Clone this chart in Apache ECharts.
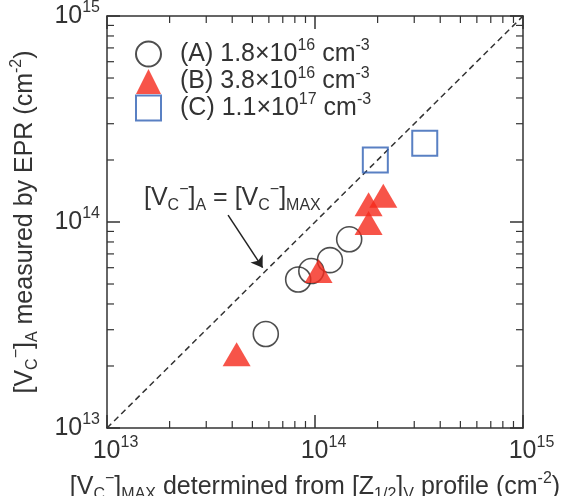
<!DOCTYPE html>
<html>
<head>
<meta charset="utf-8">
<script src="https://cdn.jsdelivr.net/npm/echarts@6/dist/echarts.min.js"></script>
<style>
  html, body { margin: 0; padding: 0; background: #fff; }
  #main { width: 576px; height: 496px; }
</style>
</head>
<body>
<div id="main"></div>
<script>
// sample (A) 1.8e16 cm-3
const xA = [5.8e13, 8.3e13, 9.6e13, 1.18e14, 1.46e14];
const yA = [2.86e13, 5.26e13, 5.78e13, 6.53e13, 8.24e13];
// sample (B) 3.8e16 cm-3
const xB = [4.2e13, 1.04e14, 1.81e14, 1.81e14, 2.13e14];
const yB = [2.28e13, 5.78e13, 9.9e13, 1.22e14, 1.34e14];
// sample (C) 1.1e17 cm-3
const xC = [1.95e14, 3.37e14];
const yC = [2.0e14, 2.41e14];

// y = x guide and the arrow pointing at it
const diagX = [1e13, 1e15];
const diagY = [1e13, 1e15];
const arrowFrom = [3.82e13, 1.08e14];
const arrowTo = [5.6e13, 6.0e13];

const axisMin = 1e13;
const axisMax = 1e15;
const minorTicks = [2e13, 3e13, 4e13, 5e13, 6e13, 7e13, 8e13, 9e13,
                    2e14, 3e14, 4e14, 5e14, 6e14, 7e14, 8e14, 9e14];

const legendNames = ['A', 'B', 'C'];
const legendLabels = [
  '{g|}{n|(A) 1.8×10}{s|16}{n| cm}{s|-3}',
  '{g|}{n|(B) 3.8×10}{s|16}{n| cm}{s|-3}',
  '{g|}{n|(C) 1.1×10}{s|17}{n| cm}{s|-3}'
];

const FONT = 'Liberation Sans, Arial, sans-serif';
const TXT = '#333';

const rich = {
  n: { fontFamily: FONT, fontSize: 25, lineHeight: 32, color: TXT },
  b: { fontFamily: FONT, fontSize: 25, lineHeight: 32, color: TXT },
  s: { fontFamily: FONT, fontSize: 16, lineHeight: 14, verticalAlign: 'top', color: TXT },
  sup: { fontFamily: FONT, fontSize: 16, lineHeight: 14, verticalAlign: 'top', color: TXT },
  sub: { fontFamily: FONT, fontSize: 16, lineHeight: 22, verticalAlign: 'bottom', color: TXT },
  p: { width: 17 },
  g: { width: 14 }
};

function pairs(xs, ys) {
  return xs.map((x, i) => [x, ys[i]]);
}

function expOf(v) {
  return Math.round(Math.log(v) / Math.LN10);
}

function majorAxis(pos, extra) {
  return Object.assign({
    type: 'log',
    logBase: 10,
    min: axisMin,
    max: axisMax,
    position: pos,
    axisLine: { show: true, onZero: false, lineStyle: { color: '#333', width: 1.5 } },
    axisTick: { show: true, inside: true, length: 13, lineStyle: { color: '#333', width: 1.5 } },
    axisLabel: { show: false },
    splitLine: { show: false },
    minorTick: { show: false }
  }, extra || {});
}

// minor ticks (2..9 x 10^n) on all four sides, placed through the axes
function renderMinorTick(params, api) {
  const v = api.value(0);
  const len = 7;
  const b = api.coord([v, axisMin]);
  const t = api.coord([v, axisMax]);
  const l = api.coord([axisMin, v]);
  const r = api.coord([axisMax, v]);
  const style = { stroke: '#333', lineWidth: 1.2 };
  return {
    type: 'group',
    children: [
      { type: 'line', shape: { x1: b[0], y1: b[1], x2: b[0], y2: b[1] - len }, style: style },
      { type: 'line', shape: { x1: t[0], y1: t[1], x2: t[0], y2: t[1] + len }, style: style },
      { type: 'line', shape: { x1: l[0], y1: l[1], x2: l[0] + len, y2: l[1] }, style: style },
      { type: 'line', shape: { x1: r[0], y1: r[1], x2: r[0] - len, y2: r[1] }, style: style }
    ]
  };
}

const xName = '{n|[V}{sub|C}{sup|−}{n|]}{sub|MAX}{n| determined from [Z}{sub|1/2}{n|]}{sub|V}{n| profile (cm}{sup|-2}{n|)}';
const yName = '{n|[V}{sub|C}{sup|−}{n|]}{sub|A}{n| measured by EPR (cm}{sup|-2}{n|)}';
const noteText = '{n|[V}{sub|C}{sup|−}{n|]}{sub|A}{n| = [V}{sub|C}{sup|−}{n|]}{sub|MAX}';

const chart = echarts.init(document.getElementById('main'), null, { renderer: 'canvas' });

const option = {
  backgroundColor: '#ffffff',
  animation: false,
  grid: { left: 107, right: 53, top: 16, bottom: 68, containLabel: false, outerBoundsMode: 'none' },
  legend: {
    data: legendNames,
    orient: 'vertical',
    left: 130,
    top: 33,
    itemWidth: 25,
    itemHeight: 25,
    itemGap: -2,
    selectedMode: false,
    formatter: function (name) {
      return legendLabels[legendNames.indexOf(name)];
    },
    textStyle: { rich: rich, fontFamily: FONT, fontSize: 25, color: TXT }
  },
  xAxis: [
    majorAxis('bottom', {
      axisLabel: {
        show: true,
        margin: 7,
        formatter: function (v) { return '{p|}{b|10}{s|' + expOf(v) + '}'; },
        rich: rich
      },
      name: xName,
      nameLocation: 'middle',
      nameGap: 43,
      nameTextStyle: { rich: rich, fontFamily: FONT, fontSize: 25, color: TXT }
    }),
    majorAxis('top')
  ],
  yAxis: [
    majorAxis('left', {
      axisLabel: {
        show: true,
        margin: 7,
        formatter: function (v) { return '{b|10}{s|' + expOf(v) + '}'; },
        rich: rich
      },
      name: yName,
      nameLocation: 'middle',
      nameGap: 66,
      nameTextStyle: { rich: rich, fontFamily: FONT, fontSize: 25, color: TXT }
    }),
    majorAxis('right')
  ],
  graphic: [{
    type: 'text',
    left: 144,
    top: 182,
    style: { text: noteText, rich: rich, fontFamily: FONT, fontSize: 25, fill: TXT }
  }],
  series: [
    {
      name: 'minor ticks',
      type: 'custom',
      xAxisIndex: 0,
      yAxisIndex: 0,
      silent: true,
      clip: false,
      data: minorTicks.map(v => [v, v]),
      renderItem: renderMinorTick,
      z: 6
    },
    {
      name: 'guide',
      type: 'line',
      xAxisIndex: 0,
      yAxisIndex: 0,
      data: pairs(diagX, diagY),
      symbol: 'none',
      silent: true,
      lineStyle: { color: '#333', width: 1.5, type: [6, 4] },
      z: 1,
      markLine: {
        silent: true,
        symbol: ['none', 'arrow'],
        symbolSize: 11,
        label: { show: false },
        lineStyle: { color: '#222', width: 1.5, type: 'solid' },
        data: [[{ coord: arrowFrom }, { coord: arrowTo }]]
      }
    },
    {
      name: 'A',
      type: 'scatter',
      data: pairs(xA, yA),
      symbol: 'circle',
      symbolSize: 25,
      itemStyle: { color: 'rgba(255,255,255,0)', borderColor: '#222', borderWidth: 1.6 },
      z: 3
    },
    {
      name: 'B',
      type: 'scatter',
      data: pairs(xB, yB),
      symbol: 'triangle',
      symbolSize: [28, 24],
      itemStyle: { color: '#f5291b' },
      z: 4
    },
    {
      name: 'C',
      type: 'scatter',
      data: pairs(xC, yC),
      symbol: 'rect',
      symbolSize: 25,
      itemStyle: { color: 'rgba(255,255,255,0)', borderColor: '#2f60b4', borderWidth: 2 },
      z: 5
    }
  ]
};

chart.setOption(option);
</script>
</body>
</html>
